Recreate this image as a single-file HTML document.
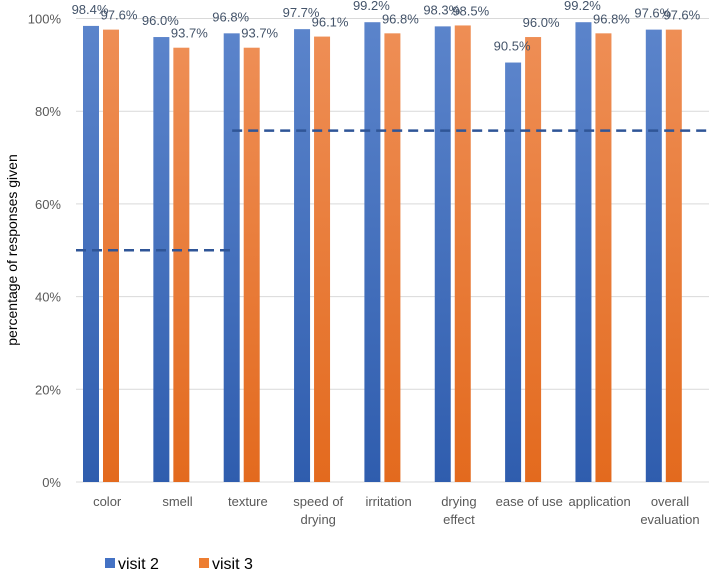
<!DOCTYPE html>
<html><head><meta charset="utf-8"><style>
body{margin:0;background:#fff;font-family:"Liberation Sans",sans-serif}
svg text{font-family:"Liberation Sans",sans-serif;fill:#595959}
</style></head><body>
<svg width="709" height="573" viewBox="0 0 709 573">
<defs>
<linearGradient id="gb" x1="0" y1="0" x2="0" y2="1"><stop offset="0" stop-color="#5B84CB"/><stop offset="1" stop-color="#2F5DAE"/></linearGradient>
<linearGradient id="go" x1="0" y1="0" x2="0" y2="1"><stop offset="0" stop-color="#EE8E55"/><stop offset="1" stop-color="#E36A1E"/></linearGradient>
</defs>
<g id="grid"></g><g id="bars"></g><g id="lines"></g>
<text transform="translate(17,250) rotate(-90)" text-anchor="middle" font-size="14" style="fill:#000">percentage of responses given</text>
<g>
<rect x="105" y="558" width="10" height="10" fill="#4472C4"/>
<text x="118" y="569" font-size="16" style="fill:#000">visit 2</text>
<rect x="199" y="558" width="10" height="10" fill="#ED7D31"/>
<text x="212" y="569" font-size="16" style="fill:#000">visit 3</text>
</g>
</svg>
<script>
const categories=[["color"],["smell"],["texture"],["speed of","drying"],["irritation"],["drying","effect"],["ease of use"],["application"],["overall","evaluation"]];
const visit2=[98.4,96.0,96.8,97.7,99.2,98.3,90.5,99.2,97.6];
const visit3=[97.6,93.7,93.7,96.1,96.8,98.5,96.0,96.8,97.6];
const yTicks=[0,20,40,60,80,100];
const refLines=[{from:0,to:2.22,value:50},{from:2.22,to:9,value:75.8}];
const NS="http://www.w3.org/2000/svg";
const x0=76,bw=70.35,y0=482,ppu=4.635;
const y=v=>y0-v*ppu, x=i=>x0+i*bw;
function mk(t,a,p){const e=document.createElementNS(NS,t);for(const k in a)e.setAttribute(k,a[k]);p.appendChild(e);return e;}
const grid=document.getElementById('grid'),bars=document.getElementById('bars'),lines=document.getElementById('lines');
yTicks.forEach(t=>{
 const l=mk('line',{x1:x0,x2:709,y1:y(t),y2:y(t),stroke:'#D9D9D9','stroke-width':1},grid);
 
 
 const tx=mk('text',{x:61,y:y(t)+5,'text-anchor':'end','font-size':13},grid);tx.textContent=t+'%';
 
 
});
categories.forEach((c,i)=>{
 const b=mk('rect',{x:x(i)+7,y:y(visit2[i]),width:16,height:visit2[i]*ppu,fill:'url(#gb)'},bars);
 
 
 const o=mk('rect',{x:x(i)+27,y:y(visit3[i]),width:16,height:visit3[i]*ppu,fill:'url(#go)'},bars);
 
 
 const l1=mk('text',{x:x(i)+14,y:y(visit2[i])-12,'text-anchor':'middle','font-size':13,style:'fill:#44546A'},bars);l1.textContent=visit2[i].toFixed(1)+'%';
 
 
 const l2=mk('text',{x:x(i)+43,y:y(visit3[i])-10,'text-anchor':'middle','font-size':13,style:'fill:#44546A'},bars);l2.textContent=visit3[i].toFixed(1)+'%';
 
 
 c.forEach((s,j)=>{const t=mk('text',{x:x(i)+bw/2-4,y:506+j*18,'text-anchor':'middle','font-size':13},bars);t.textContent=s;
 
 });
});
refLines.forEach((r,k)=>{
 const l=mk('line',{x1:x(r.from),x2:Math.min(x(r.to),709),y1:y(r.value),y2:y(r.value),stroke:'#2F5597','stroke-width':2.5,'stroke-dasharray':'10,6'},lines);
 
 
});
</script>
</body></html>
